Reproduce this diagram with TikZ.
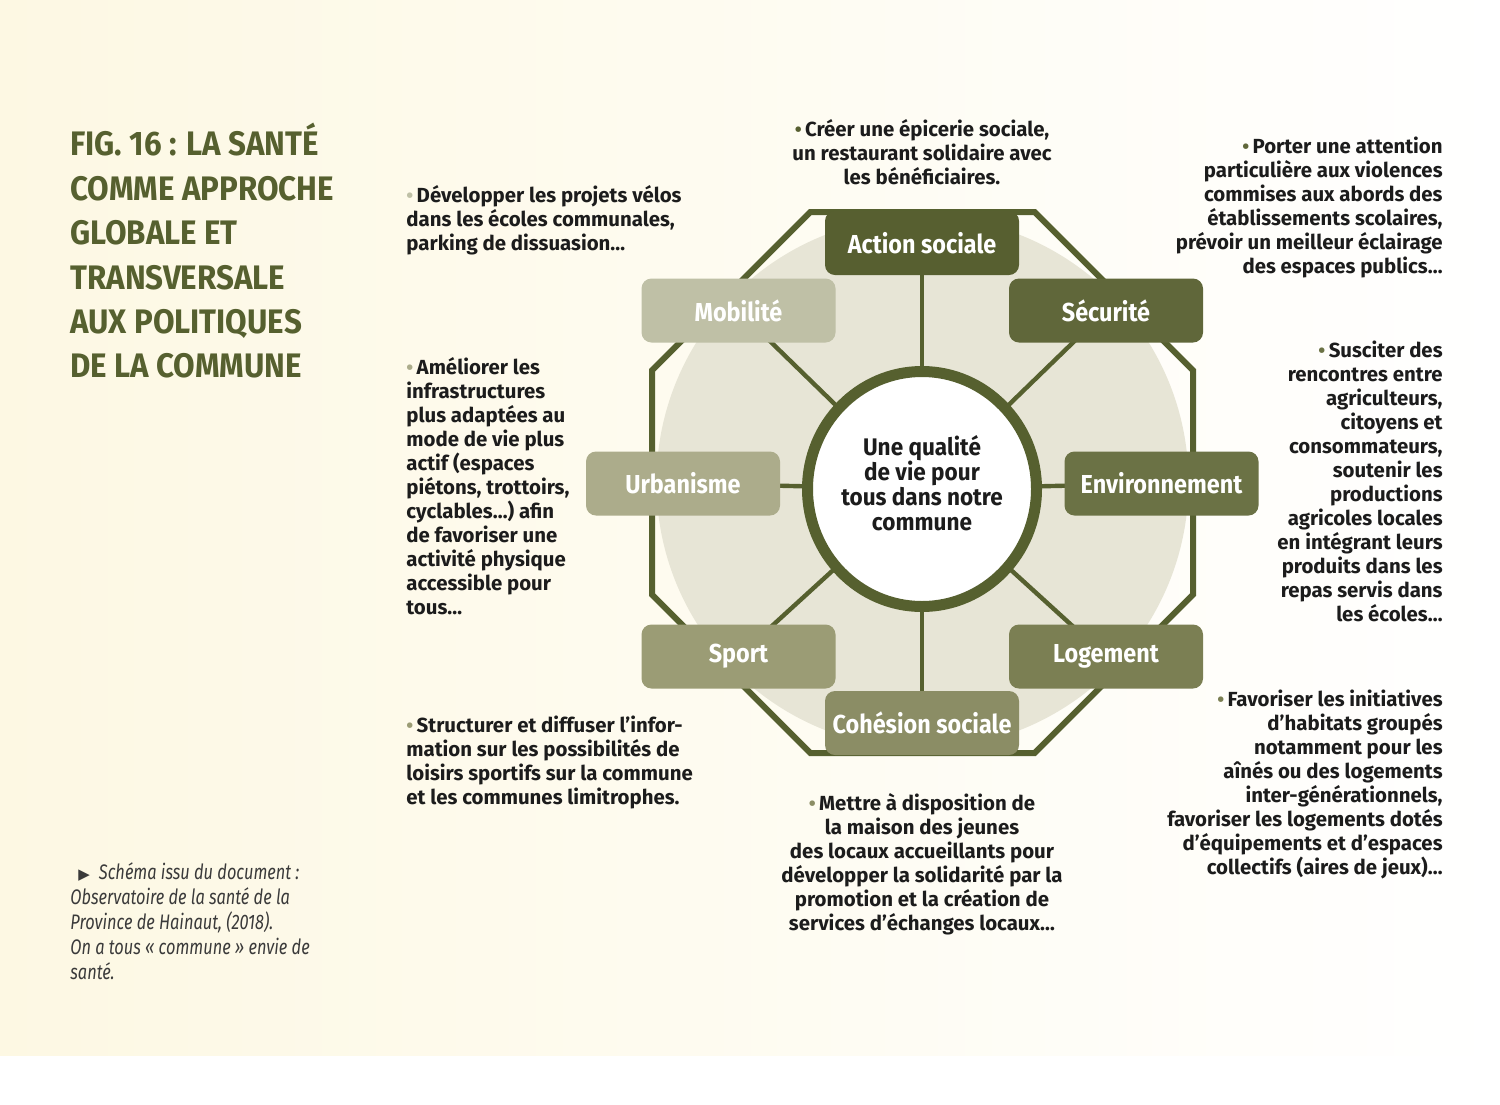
\documentclass[tikz,border=0pt]{standalone}
\usepackage{fontspec}
\setmainfont{Fira Sans}
\newfontfamily\bodyfont{Fira Sans}
\newfontfamily\condfont[FakeStretch=0.92]{Fira Sans}
\newfontfamily\labelfont[FakeStretch=0.9]{Fira Sans}
\newfontfamily\hubfont[FakeStretch=0.94]{Fira Sans}
\newfontfamily\capfont[FakeStretch=0.78]{Fira Sans}
\newfontfamily\symfont{DejaVu Sans}
\usepackage{xcolor}
\usepackage{tikz}
\usetikzlibrary{shapes.geometric,backgrounds}

\definecolor{olive}{HTML}{56602F}
\definecolor{cream}{HTML}{FDF8E3}
\definecolor{discgray}{HTML}{E7E5D6}
\definecolor{ink}{HTML}{1C1C1C}
\definecolor{capgray}{HTML}{3A3A3A}
\definecolor{tA}{HTML}{575F30}
\definecolor{tB}{HTML}{60673A}
\definecolor{tC}{HTML}{6B7245}
\definecolor{tD}{HTML}{7B7F53}
\definecolor{tE}{HTML}{8B8D65}
\definecolor{tF}{HTML}{9B9C75}
\definecolor{tG}{HTML}{ACAC8B}
\definecolor{tH}{HTML}{BFC0A6}
\newcommand{\puce}[1]{{\color{#1}\fontsize{10}{10}\selectfont•}\,}

\begin{document}
\begin{tikzpicture}[
  x=0.5pt,y=-0.5pt,
  title/.style={font=\condfont\bfseries\fontsize{17}{22.2}\selectfont,
                text=olive, align=left, inner sep=0pt, anchor=north west},
  note/.style={font=\bodyfont\bfseries\fontsize{10.2}{12}\selectfont,
               text=ink, inner sep=0pt},
  source/.style={font=\capfont\itshape\fontsize{10.5}{12.5}\selectfont,
                 text=capgray, align=left, inner sep=0pt, anchor=north west},
  theme/.style={rounded corners=5pt, minimum width=97pt, minimum height=32pt,
                inner sep=0pt, text=white,
                font=\labelfont\bfseries\fontsize{13}{13}\selectfont},
  hub/.style={ellipse, draw=olive, line width=5.5pt, fill=white,
              minimum width=114.5pt, minimum height=117.5pt, inner sep=0pt},
  hubtext/.style={align=center, inner sep=0pt, text=ink,
                  font=\hubfont\bfseries\fontsize{12}{12.5}\selectfont},
  spoke/.style={draw=olive, line width=2.2pt},
  octo/.style={draw=olive, line width=3pt, line join=miter}
]
\useasboundingbox (0,0) rectangle (1500,1104);

% title and source
\node[title] (fig) at (70,123)
  {FIG. 16 : LA SANTÉ\\COMME APPROCHE\\GLOBALE ET\\TRANSVERSALE\\AUX POLITIQUES\\DE LA COMMUNE};
\node[source] (src) at (70,862)
  {\hspace*{4pt}{\symfont\fontsize{7.5}{7.5}\selectfont ▶}\hspace{4.5pt}Schéma issu du document :\\Observatoire de la santé de la\\Province de Hainaut, (2018).\\On a tous «~commune~» envie de\\santé.};

% the eight themes
\node[theme, fill=tA] (act) at (922,243) {Action sociale};
\node[theme, fill=tB] (secu) at (1106,310.5) {Sécurité};
\node[theme, fill=tC] (envi) at (1161.5,483.5) {Environnement};
\node[theme, fill=tD] (loge) at (1106,656.5) {Logement};
\node[theme, fill=tE] (cohe) at (922,723) {Cohésion sociale};
\node[theme, fill=tF] (sport) at (738.5,656.5) {Sport};
\node[theme, fill=tG] (urba) at (683,483.5) {Urbanisme};
\node[theme, fill=tH] (mobi) at (738.5,310.5) {Mobilité};

\node[hub] (hub) at (922,489) {};
\node[hubtext] (hubtxt) at (922,483)
  {Une qualité\\de vie pour\\tous dans notre\\commune};

% examples round the octagon
\node[note, align=center, anchor=north] (actnote) at (922,119)
  {\puce{tA}Créer une épicerie sociale,\\un restaurant solidaire avec\\les bénéficiaires.};
\node[note, align=left, anchor=north west] (mobinote) at (406,185)
  {\puce{tH}Développer les projets vélos\\dans les écoles communales,\\parking de dissuasion…};
\node[note, align=right, anchor=north east] (secunote) at (1443,137)
  {\puce{tB}Porter une attention\\particulière aux violences\\commises aux abords des\\établissements scolaires,\\prévoir un meilleur éclairage\\des espaces publics…};
\node[note, align=left, anchor=north west] (urbanote) at (406,357)
  {\puce{tG}Améliorer les\\infrastructures\\plus adaptées au\\mode de vie plus\\actif (espaces\\piétons, trottoirs,\\cyclables…) afin\\de favoriser une\\activité physique\\accessible pour\\tous…};
\node[note, align=right, anchor=north east] (envinote) at (1443,341)
  {\puce{tC}Susciter des\\rencontres entre\\agriculteurs,\\citoyens et\\consommateurs,\\soutenir les\\productions\\agricoles locales\\en intégrant leurs\\produits dans les\\repas servis dans\\les écoles…};
\node[note, align=left, anchor=north west] (sportnote) at (406,716)
  {\puce{tF}Structurer et diffuser l’infor-\\mation sur les possibilités de\\loisirs sportifs sur la commune\\et les communes limitrophes.};
\node[note, align=right, anchor=north east] (logenote) at (1443,690)
  {\puce{tD}Favoriser les initiatives\\d’habitats groupés\\notamment pour les\\aînés ou des logements\\inter-générationnels,\\favoriser les logements dotés\\d’équipements et d’espaces\\collectifs (aires de jeux)…};
\node[note, align=center, anchor=north] (cohenote) at (922,793)
  {\puce{tE}Mettre à disposition de\\la maison des jeunes\\des locaux accueillants pour\\développer la solidarité par la\\promotion et la création de\\services d’échanges locaux…};

\begin{scope}[on background layer]
  \fill[left color=cream, right color=white] (0,0) rectangle (1500,1055);
  \fill[discgray] (922.5,482.5) circle[radius=133pt];
  \draw[octo] plot[samples at={22.5,67.5,...,337.5}]
    ({922.5+292.8*cos(\x)},{482.5+292.8*sin(\x)}) -- cycle;
  \foreach \t in {act,secu,envi,loge,cohe,sport,urba,mobi}
    \draw[spoke] (hub.center) -- (\t.center);
\end{scope}

\end{tikzpicture}
\end{document}
